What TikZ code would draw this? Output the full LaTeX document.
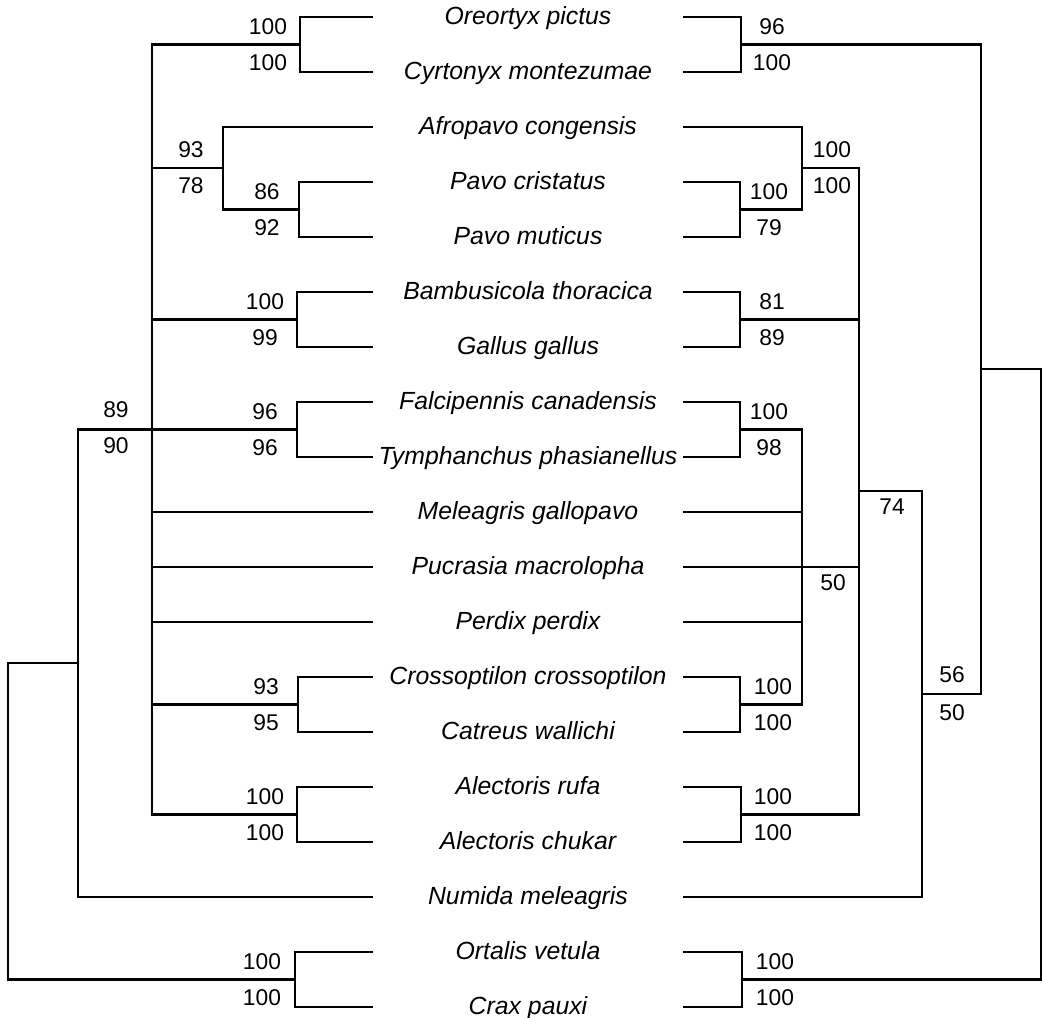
\documentclass[tikz,border=0pt]{standalone}
\usepackage{fontspec}
\setmainfont{Liberation Sans}
\usepackage{tikz}
\usetikzlibrary{calc}

\begin{document}
\begin{tikzpicture}[
  x=0.5pt, y=-0.5pt,
  br/.style={line width=1.25pt},
  taxon/.style={font=\fontsize{12.4}{14}\selectfont\itshape,inner sep=0pt,anchor=base},
  bs/.style={font=\fontsize{11.4}{13}\selectfont,inner sep=0pt}
]
\useasboundingbox (0,0) rectangle (1043,1017);

% taxa, one row each, with the leaf ends of both trees
\foreach \nm [count=\i] in {Oreortyx pictus,Cyrtonyx montezumae,Afropavo congensis,
    Pavo cristatus,Pavo muticus,Bambusicola thoracica,Gallus gallus,
    Falcipennis canadensis,Tymphanchus phasianellus,Meleagris gallopavo,
    Pucrasia macrolopha,Perdix perdix,Crossoptilon crossoptilon,Catreus wallichi,
    Alectoris rufa,Alectoris chukar,Numida meleagris,Ortalis vetula,Crax pauxi}{
  \pgfmathsetmacro{\yy}{17+55*(\i-1)}
  \node[taxon] (t\i) at (528,\yy+7.5) {\nm};
  \coordinate (l\i) at (373,\yy);
  \coordinate (r\i) at (683,\yy);
}

% left tree
\coordinate (A)  at (300,44.5);
\coordinate (P)  at (299,209.5);
\coordinate (AP) at (223,168);
\coordinate (B)  at (297,319.5);
\coordinate (F)  at (297,429.5);
\coordinate (C)  at (298,704.5);
\coordinate (AL) at (297,814.5);
\coordinate (M)  at (152,429.5);
\coordinate (N)  at (78,663);
\coordinate (O)  at (295,979.5);
\coordinate (R)  at (8,821);

\draw[br] (l1) -| (A) |- (l2);
\draw[br] (l4) -| (P) |- (l5);
\draw[br] (l3) -| (AP) |- (P);
\draw[br] (l6) -| (B) |- (l7);
\draw[br] (l8) -| (F) |- (l9);
\draw[br] (l13) -| (C) |- (l14);
\draw[br] (l15) -| (AL) |- (l16);
\draw[br] (l18) -| (O) |- (l19);
\draw[br] (A) -| (M) |- (AL);
\foreach \c in {AP,B,F,l10,l11,l12,C}
  \draw[br] (\c) -- (\c -| M);
\draw[br] (M) -| (N) |- (l17);
\draw[br] (N) -| (R) |- (O);

\node[bs] (sA1)  at ($(A)+(-32,-18)$)  {100};
\node[bs] (sA2)  at ($(A)+(-32,18)$)   {100};
\node[bs] (sAP1) at ($(AP)+(-32,-18)$) {93};
\node[bs] (sAP2) at ($(AP)+(-32,18)$)  {78};
\node[bs] (sP1)  at ($(P)+(-32,-18)$)  {86};
\node[bs] (sP2)  at ($(P)+(-32,18)$)   {92};
\node[bs] (sB1)  at ($(B)+(-32,-18)$)  {100};
\node[bs] (sB2)  at ($(B)+(-32,18)$)   {99};
\node[bs] (sF1)  at ($(F)+(-32,-18)$)  {96};
\node[bs] (sF2)  at ($(F)+(-32,18)$)   {96};
\node[bs] (sM1)  at ($(M)+(-36,-20)$)  {89};
\node[bs] (sM2)  at ($(M)+(-36,16)$)   {90};
\node[bs] (sC1)  at ($(C)+(-32,-18)$)  {93};
\node[bs] (sC2)  at ($(C)+(-32,18)$)   {95};
\node[bs] (sAL1) at ($(AL)+(-32,-18)$) {100};
\node[bs] (sAL2) at ($(AL)+(-32,18)$)  {100};
\node[bs] (sO1)  at ($(O)+(-33,-18)$)  {100};
\node[bs] (sO2)  at ($(O)+(-33,18)$)   {100};

% right tree
\coordinate (a)  at (741,44.5);
\coordinate (p)  at (740,209.5);
\coordinate (ap) at (802,168);
\coordinate (b)  at (740,319.5);
\coordinate (f)  at (740,429.5);
\coordinate (c)  at (740,704.5);
\coordinate (al) at (741,814.5);
\coordinate (g)  at (802,567);
\coordinate (h)  at (859,491);
\coordinate (k)  at (922,694);
\coordinate (m)  at (981,369);
\coordinate (o)  at (742,979.5);
\coordinate (rt) at (1041,674);

\draw[br] (r1) -| (a) |- (r2);
\draw[br] (r4) -| (p) |- (r5);
\draw[br] (r3) -| (ap) |- (p);
\draw[br] (r6) -| (b) |- (r7);
\draw[br] (r8) -| (f) |- (r9);
\draw[br] (r13) -| (c) |- (r14);
\draw[br] (r15) -| (al) |- (r16);
\draw[br] (r18) -| (o) |- (r19);
\draw[br] (f) -| (g) |- (c);
\foreach \c in {r10,r11,r12}
  \draw[br] (\c) -- (\c -| g);
\draw[br] (ap) -| (h) |- (al);
\foreach \c in {b,g}
  \draw[br] (\c) -- (\c -| h);
\draw[br] (h) -| (k) |- (r17);
\draw[br] (a) -| (m) |- (k);
\draw[br] (m) -| (rt) |- (o);

\node[bs] (sa1)  at ($(a)+(31,-18)$)  {96};
\node[bs] (sa2)  at ($(a)+(31,18)$)   {100};
\node[bs] (sp1)  at ($(p)+(29,-18)$)  {100};
\node[bs] (sp2)  at ($(p)+(29,18)$)   {79};
\node[bs] (sap1) at ($(ap)+(30,-18)$) {100};
\node[bs] (sap2) at ($(ap)+(30,18)$)  {100};
\node[bs] (sb1)  at ($(b)+(32,-18)$)  {81};
\node[bs] (sb2)  at ($(b)+(32,18)$)   {89};
\node[bs] (sf1)  at ($(f)+(29,-18)$)  {100};
\node[bs] (sf2)  at ($(f)+(29,18)$)   {98};
\node[bs] (sg)   at ($(g)+(31,16)$)   {50};
\node[bs] (sh)   at ($(h)+(33,16)$)   {74};
\node[bs] (sk1)  at ($(k)+(30,-19)$)  {56};
\node[bs] (sk2)  at ($(k)+(30,19)$)   {50};
\node[bs] (sc1)  at ($(c)+(33,-18)$)  {100};
\node[bs] (sc2)  at ($(c)+(33,18)$)   {100};
\node[bs] (sal1) at ($(al)+(32,-18)$) {100};
\node[bs] (sal2) at ($(al)+(32,18)$)  {100};
\node[bs] (so1)  at ($(o)+(33,-18)$)  {100};
\node[bs] (so2)  at ($(o)+(33,18)$)   {100};
\end{tikzpicture}
\end{document}
